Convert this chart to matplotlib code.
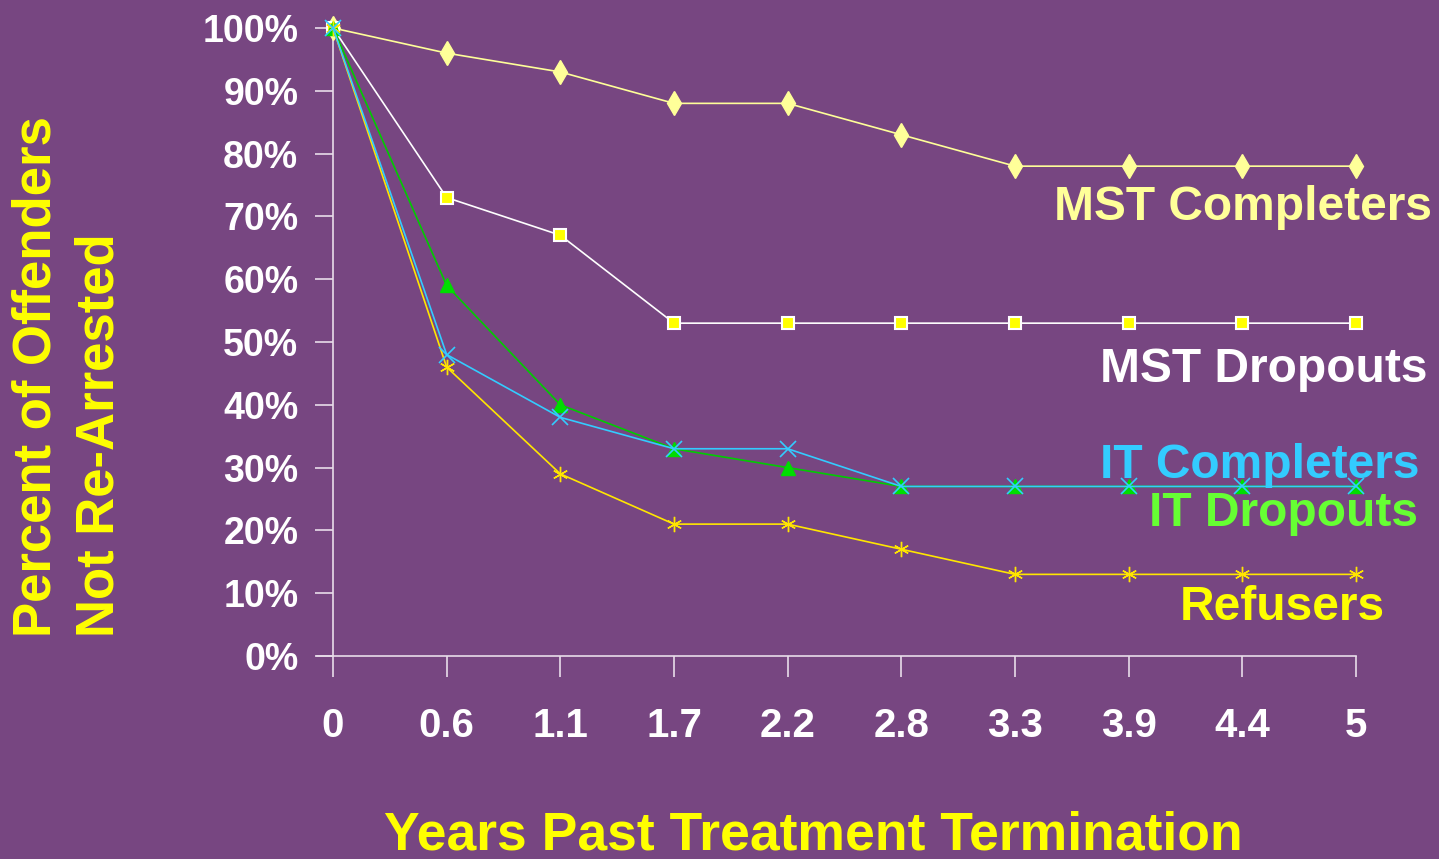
import numpy as np
import matplotlib.pyplot as plt
from matplotlib import font_manager

# years since treatment ended (shown as evenly spaced categories)
years = ['0', '0.6', '1.1', '1.7', '2.2', '2.8', '3.3', '3.9', '4.4', '5']

# percent of offenders not re-arrested
mst_completers = [100, 96, 93, 88, 88, 83, 78, 78, 78, 78]
mst_dropouts = [100, 73, 67, 53, 53, 53, 53, 53, 53, 53]
it_completers = [100, 48, 38, 33, 33, 27, 27, 27, 27, 27]
it_dropouts = [100, 59, 40, 33, 30, 27, 27, 27, 27, 27]
refusers = [100, 46, 29, 21, 21, 17, 13, 13, 13, 13]

bg = '#774681'
bold = ['Liberation Sans', 'DejaVu Sans']

# a condensed face for the year labels, if one is around
names_avail = {f.name for f in font_manager.fontManager.ttflist}
narrow = [n for n in ['Liberation Sans Narrow', 'DejaVu Sans Condensed']
          if n in names_avail] + bold

fig = plt.figure(figsize=(14.39, 8.59), dpi=100, facecolor=bg)
W, H = 1439, 859
x0, x1 = 333, 1356
y0, y1 = 656, 28
ax = fig.add_axes([x0 / W, 1 - y0 / H, (x1 - x0) / W, (y0 - y1) / H])
ax.set_facecolor(bg)

x = np.arange(len(years))

ax.plot(x, mst_completers, color='#FFFF99', lw=1.2, marker='d', ms=12,
        mfc='#FFFF99', mec='#FFFF99', clip_on=False, zorder=3)
ax.plot(x, mst_dropouts, color='white', lw=1.2, marker='s', ms=8,
        mfc='#FFFF00', mec='white', mew=1.5, clip_on=False, zorder=3)
ax.plot(x, it_completers, color='#33CCFF', lw=1.2, marker='x', ms=11,
        mec='#33CCFF', mew=1.2, clip_on=False, zorder=4)
ax.plot(x, it_dropouts, color='#00CC00', lw=1.2, marker='^', ms=10,
        mfc='#00DD00', mec='#00DD00', clip_on=False, zorder=3)
ax.plot(x, refusers, color='#FFE600', lw=1.2, marker=(6, 2, 0), ms=11,
        mec='#FFE600', mew=1.0, clip_on=False, zorder=3)

ax.set_xlim(0, len(years) - 1)
ax.set_ylim(0, 100)

for s in ['top', 'right']:
    ax.spines[s].set_visible(False)
ax.spines['left'].set_color('#E8DDEA')
ax.spines['bottom'].set_color('#E8DDEA')
ax.spines['left'].set_linewidth(1.2)
ax.spines['bottom'].set_linewidth(1.2)
ax.spines['bottom'].set_bounds(-0.14, len(years) - 1)

ax.set_yticks(np.arange(0, 101, 10))
ax.set_yticklabels([f'{v}%' for v in range(0, 101, 10)], family=bold,
                   fontweight='bold', fontsize=27, color='white')
ax.set_xticks(x)
ax.set_xticklabels(years, family=narrow, fontweight='bold', fontsize=29,
                   color='white')
ax.tick_params(axis='y', length=13, width=1.2, color='#E8DDEA', pad=12)
ax.tick_params(axis='x', length=15, width=1.2, color='#E8DDEA', pad=22)

# series names written next to the lines
labels = [('MST Completers', '#FFFF99', 1432, 208),
          ('MST Dropouts', 'white', 1427, 369),
          ('IT Completers', '#33CCFF', 1420, 465),
          ('IT Dropouts', '#66FF33', 1418, 513),
          ('Refusers', '#FFFF00', 1385, 608)]
for text, col, px, py in labels:
    fig.text(px / W, 1 - py / H, text, color=col, family=bold,
             fontweight='bold', fontsize=34.5, ha='right', va='center')

fig.text(813 / W, 1 - 835 / H, 'Years Past Treatment Termination',
         color='#FFFF00', family=bold, fontweight='bold', fontsize=38.5,
         ha='center', va='center')
fig.text(37 / W, 1 - 637 / H, 'Percent of Offenders', color='#FFFF00',
         family=bold, fontweight='bold', fontsize=38, rotation=90,
         ha='center', va='bottom')
fig.text(100 / W, 1 - 637 / H, 'Not Re-Arrested', color='#FFFF00',
         family=bold, fontweight='bold', fontsize=38, rotation=90,
         ha='center', va='bottom')

fig.savefig('out.png', dpi=100, facecolor=bg)
